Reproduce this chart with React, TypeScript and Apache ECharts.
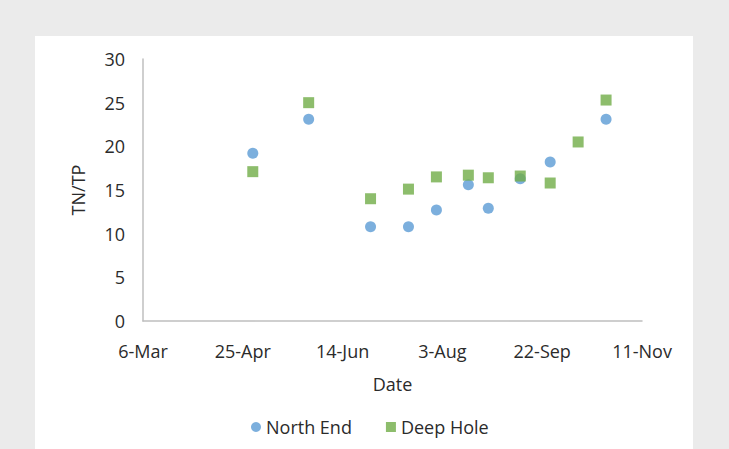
import React, { useEffect, useRef } from "react";
import * as echarts from "echarts";

const tickLabels = ["6-Mar", "25-Apr", "14-Jun", "3-Aug", "22-Sep", "11-Nov"];
const startDate = "2014-03-06";

const northDates = [
  "2014-04-30", "2014-05-28", "2014-06-28", "2014-07-17", "2014-07-31",
  "2014-08-16", "2014-08-26", "2014-09-11", "2014-09-26", "2014-10-24",
];
const northValues = [19.2, 23.1, 10.8, 10.8, 12.7, 15.6, 12.9, 16.3, 18.2, 23.1];

const deepDates = [
  "2014-04-30", "2014-05-28", "2014-06-28", "2014-07-17", "2014-07-31",
  "2014-08-16", "2014-08-26", "2014-09-11", "2014-09-26", "2014-10-10", "2014-10-24",
];
const deepValues = [17.1, 25.0, 14.0, 15.1, 16.5, 16.7, 16.4, 16.6, 15.8, 20.5, 25.3];

const dayOffset = (d: string) =>
  Math.round((Date.parse(d) - Date.parse(startDate)) / 86400000);

const FONT = "Open Sans";
const TEXT = "#2b2b2b";

export default function App() {
  const ref = useRef<HTMLDivElement>(null);
  useEffect(() => {
    if (!ref.current) return;
    const chart = echarts.init(ref.current, undefined, { renderer: "svg" });
    chart.setOption({
      animation: false,
      backgroundColor: "#ebebeb",
      graphic: [
        {
          type: "rect",
          z: -10,
          shape: { x: 35, y: 36, width: 658, height: 420 },
          style: { fill: "#ffffff" },
        },
      ],
      grid: { left: 143, right: 87, top: 59, bottom: 128 },
      legend: {
        left: 246,
        top: 413,
        itemWidth: 10,
        itemHeight: 10,
        itemGap: 34,
        textStyle: { fontFamily: FONT, fontSize: 18, color: TEXT },
        data: [
          { name: "North End", icon: "circle" },
          { name: "Deep Hole", icon: "rect" },
        ],
      },
      xAxis: {
        type: "value",
        min: 0,
        max: 250,
        interval: 50,
        name: "Date",
        nameLocation: "middle",
        nameGap: 54,
        nameTextStyle: { fontFamily: FONT, fontSize: 18, color: TEXT },
        axisLine: { show: true, lineStyle: { color: "#bfbfbf", width: 1.5 } },
        axisTick: { show: false },
        splitLine: { show: false },
        axisLabel: {
          margin: 21,
          fontFamily: FONT,
          fontSize: 18,
          color: TEXT,
          formatter: (v: number) => tickLabels[Math.round(v / 50)] ?? "",
        },
      },
      yAxis: {
        type: "value",
        min: 0,
        max: 30,
        interval: 5,
        name: "TN/TP",
        nameLocation: "middle",
        nameGap: 56,
        nameTextStyle: { fontFamily: FONT, fontSize: 18, color: TEXT },
        axisLine: { show: true, lineStyle: { color: "#bfbfbf", width: 1.5 } },
        axisTick: { show: false },
        splitLine: { show: false },
        axisLabel: { margin: 18, fontFamily: FONT, fontSize: 18, color: TEXT },
      },
      series: [
        {
          name: "North End",
          type: "scatter",
          symbol: "circle",
          symbolSize: 11,
          itemStyle: { color: "#5b9bd5" },
          data: northDates.map((d, i) => [dayOffset(d), northValues[i]]),
        },
        {
          name: "Deep Hole",
          type: "scatter",
          symbol: "rect",
          symbolSize: 11,
          itemStyle: { color: "#70ad47" },
          data: deepDates.map((d, i) => [dayOffset(d), deepValues[i]]),
        },
      ],
    });
    return () => chart.dispose();
  }, []);
  return (
    <div
      ref={ref}
      style={{ position: "fixed", left: 0, top: 0, width: 729, height: 449 }}
    />
  );
}
